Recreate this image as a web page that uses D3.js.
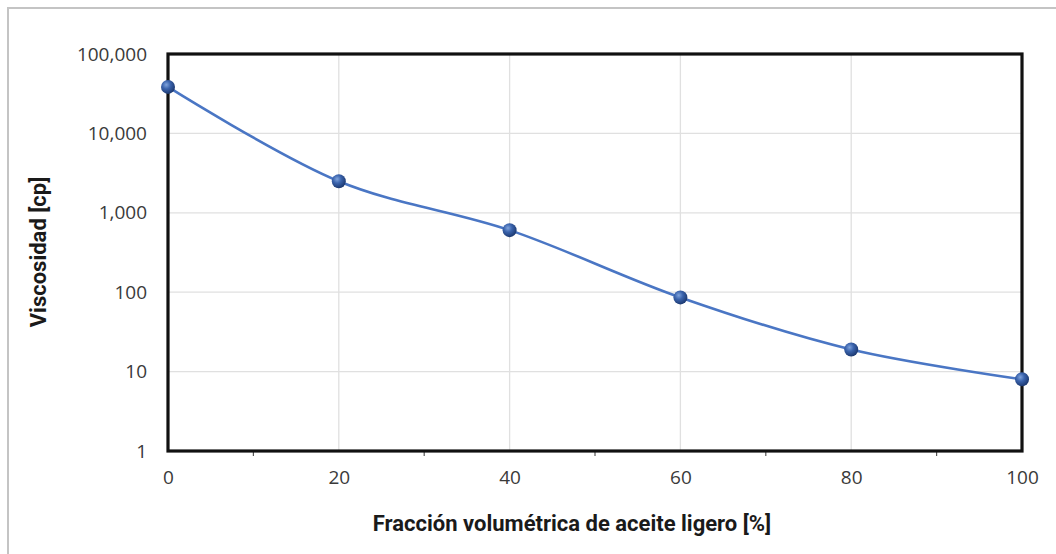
<!DOCTYPE html>
<html>
<head>
<meta charset="utf-8">
<script src="https://cdn.jsdelivr.net/npm/d3@7"></script>
<style>
  body { margin: 0; background: #fff; }
  svg { display: block; }
</style>
</head>
<body>
<div id="chart"></div>
<script>
// data
var fraccion = [0, 20, 40, 60, 80, 100];
var viscosidad = [38500, 2500, 605, 86, 19, 8];
var xTicks = [0, 20, 40, 60, 80, 100];
var xMinorTicks = [10, 30, 50, 70, 90];
var yTicks = [1, 10, 100, 1000, 10000, 100000];

var W = 1056, H = 554;
var margin = {top: 54, right: 34, bottom: 103, left: 168},
    width = W - margin.left - margin.right,
    height = H - margin.top - margin.bottom;

var svg = d3.select("#chart")
  .append("svg")
    .attr("width", W)
    .attr("height", H);

// outer frame (only top/left visible in the picture)
svg.append("rect")
  .attr("x", 8).attr("y", 8)
  .attr("width", W + 20).attr("height", H + 20)
  .attr("fill", "none")
  .attr("stroke", "#c4c4c4")
  .attr("stroke-width", 2);

var g = svg.append("g")
  .attr("transform", "translate(" + margin.left + "," + margin.top + ")");

var x = d3.scaleLinear().domain([0, 100]).range([0, width]);
var y = d3.scaleLog().domain([1, 100000]).range([height, 0]);

// gridlines
g.append("g").selectAll("line")
  .data(yTicks.slice(1, -1))
  .enter().append("line")
    .attr("x1", 0).attr("x2", width)
    .attr("y1", function(d) { return y(d); })
    .attr("y2", function(d) { return y(d); })
    .attr("stroke", "#e0e0e0").attr("stroke-width", 1.3);
g.append("g").selectAll("line")
  .data(xTicks.slice(1, -1))
  .enter().append("line")
    .attr("x1", function(d) { return x(d); })
    .attr("x2", function(d) { return x(d); })
    .attr("y1", 0).attr("y2", height)
    .attr("stroke", "#e0e0e0").attr("stroke-width", 1.3);

// axes
var xAxis = g.append("g")
  .attr("transform", "translate(0," + height + ")")
  .call(d3.axisBottom(x).tickValues(xTicks).tickSize(0).tickPadding(20));
xAxis.select(".domain").remove();

g.append("g")
  .attr("transform", "translate(0," + height + ")")
  .selectAll("line")
  .data(xMinorTicks)
  .enter().append("line")
    .attr("x1", function(d) { return x(d); })
    .attr("x2", function(d) { return x(d); })
    .attr("y1", 0).attr("y2", 5)
    .attr("stroke", "#555").attr("stroke-width", 1.2);

var yAxis = g.append("g")
  .call(d3.axisLeft(y).tickValues(yTicks).tickSize(0).tickPadding(21)
    .tickFormat(d3.format(",")));
yAxis.select(".domain").remove();

g.selectAll(".tick text")
  .attr("font-family", "'Open Sans', 'Liberation Sans', sans-serif")
  .attr("font-size", 19)
  .attr("fill", "#3a3a3a");

// plot area frame
g.append("rect")
  .attr("x", 0).attr("y", 0)
  .attr("width", width).attr("height", height)
  .attr("fill", "none")
  .attr("stroke", "#111")
  .attr("stroke-width", 3.2);

// line
var line = d3.line()
  .x(function(d, i) { return x(fraccion[i]); })
  .y(function(d) { return y(d); })
  .curve(d3.curveCatmullRom.alpha(0.5));

g.append("path")
  .datum(viscosidad)
  .attr("d", line)
  .attr("fill", "none")
  .attr("stroke", "#4a76c4")
  .attr("stroke-width", 2.6);

// sphere-like markers
var defs = svg.append("defs");
var grad = defs.append("radialGradient")
  .attr("id", "ball")
  .attr("cx", "38%").attr("cy", "35%").attr("r", "65%");
grad.append("stop").attr("offset", "0%").attr("stop-color", "#7fa3dc");
grad.append("stop").attr("offset", "45%").attr("stop-color", "#3b64ad");
grad.append("stop").attr("offset", "100%").attr("stop-color", "#1d3a72");

g.append("g").selectAll("circle")
  .data(viscosidad)
  .enter().append("circle")
    .attr("cx", function(d, i) { return x(fraccion[i]); })
    .attr("cy", function(d) { return y(d); })
    .attr("r", 7)
    .attr("fill", "url(#ball)");

// axis titles
svg.append("text")
  .attr("x", margin.left + width / 2 - 23)
  .attr("y", 531)
  .attr("text-anchor", "middle")
  .attr("font-family", "'Liberation Sans Narrow', 'Roboto', sans-serif")
  .attr("font-weight", "bold")
  .attr("font-size", 22)
  .attr("fill", "#1a1a1a")
  .text("Fracción volumétrica de aceite ligero [%]");

svg.append("text")
  .attr("transform", "translate(46,252) rotate(-90)")
  .attr("text-anchor", "middle")
  .attr("font-family", "'Liberation Sans Narrow', 'Roboto', sans-serif")
  .attr("font-weight", "bold")
  .attr("font-size", 22)
  .attr("fill", "#1a1a1a")
  .text("Viscosidad [cp]");
</script>
</body>
</html>
